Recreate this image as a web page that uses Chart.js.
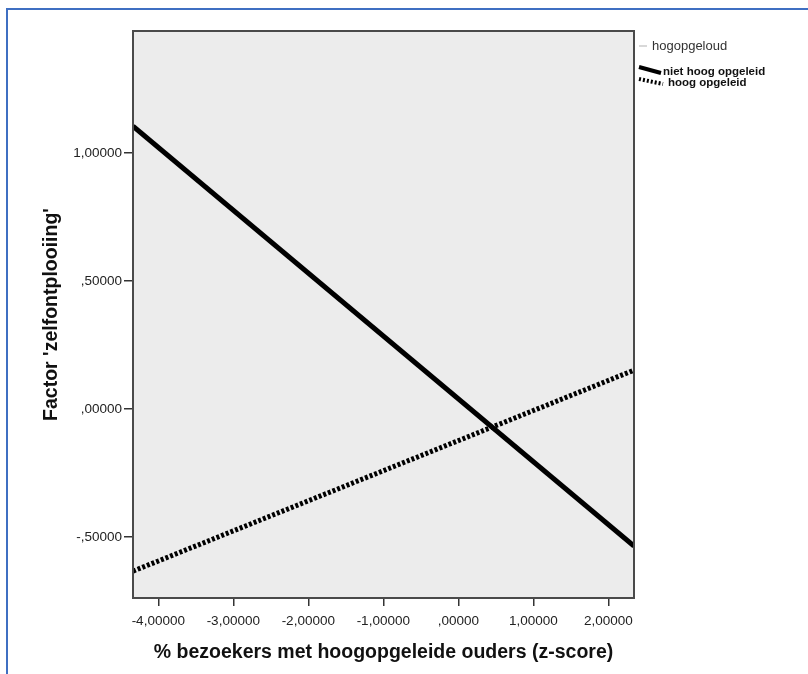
<!DOCTYPE html>
<html>
<head>
<meta charset="utf-8">
<script src="https://cdn.jsdelivr.net/npm/chart.js@4"></script>
<style>
html,body{margin:0;padding:0;background:#fff;}
#wrap{position:relative;width:808px;height:674px;overflow:hidden;}
#frame{position:absolute;left:6px;top:8px;width:820px;height:700px;border-left:2px solid #3f6fc2;border-top:2px solid #3f6fc2;box-sizing:border-box;pointer-events:none;}
canvas{position:absolute;left:0;top:0;}
</style>
</head>
<body>
<div id="wrap">
<canvas id="c" width="808" height="674"></canvas>
<div id="frame"></div>
</div>
<script>
// ---- data ----
const xRange = [-4.337, 2.343];               // z-score at left and right end of fit lines
const nietHoogOpgeleid = [1.105, -0.535];      // Factor 'zelfontplooiing'
const hoogOpgeleid = [-0.633, 0.152];
const seriesLabels = ['niet hoog opgeleid', 'hoog opgeleid'];
const legendTitle = 'hogopgeloud';
const xTickValues = [-4, -3, -2, -1, 0, 1, 2];
const xTickLabels = ['-4,00000', '-3,00000', '-2,00000', '-1,00000', ',00000', '1,00000', '2,00000'];
const yTickValues = [-0.5, 0, 0.5, 1.0];
const yTickLabels = ['-,50000', ',00000', ',50000', '1,00000'];
const xTitle = '% bezoekers met hoogopgeleide ouders (z-score)';
const yTitle = "Factor 'zelfontplooiing'";

const toPts = ys => xRange.map((x, i) => ({x: x, y: ys[i]}));

const FONT = '"Liberation Sans", Arial, sans-serif';

const plotBg = {
  id: 'plotBg',
  beforeDatasetsDraw(chart) {
    const {ctx, chartArea: a} = chart;
    ctx.save();
    ctx.fillStyle = '#ececec';
    ctx.fillRect(a.left, a.top, a.right - a.left, a.bottom - a.top);
    ctx.restore();
  },
  afterDatasetsDraw(chart) {
    const {ctx, chartArea: a} = chart;
    ctx.save();
    ctx.strokeStyle = '#4a4a4a';
    ctx.lineWidth = 2;
    ctx.strokeRect(a.left, a.top, a.right - a.left, a.bottom - a.top);
    ctx.restore();
  }
};

const legendPlugin = {
  id: 'customLegend',
  afterDraw(chart) {
    const ctx = chart.ctx;
    ctx.save();
    ctx.fillStyle = '#d8d8d8';
    ctx.fillRect(639, 45, 8, 2);
    ctx.fillStyle = '#333';
    ctx.font = '13px ' + FONT;
    ctx.textBaseline = 'middle';
    ctx.fillText(legendTitle, 652, 46);
    ctx.font = 'bold 11.5px ' + FONT;
    ctx.fillStyle = '#111';
    // solid sample
    ctx.strokeStyle = '#000';
    ctx.lineWidth = 4;
    ctx.beginPath(); ctx.moveTo(639, 67); ctx.lineTo(661, 73); ctx.stroke();
    ctx.fillText(seriesLabels[0], 663, 72);
    // dotted sample
    ctx.setLineDash([2, 2]);
    ctx.lineWidth = 4;
    ctx.beginPath(); ctx.moveTo(639, 79); ctx.lineTo(663, 84); ctx.stroke();
    ctx.setLineDash([]);
    ctx.fillText(seriesLabels[1], 668, 83);
    ctx.restore();
  }
};

new Chart(document.getElementById('c'), {
  type: 'scatter',
  data: {
    datasets: [
      {label: seriesLabels[0], data: toPts(nietHoogOpgeleid), showLine: true, borderColor: '#000', borderWidth: 5, pointRadius: 0, borderCapStyle: 'butt'},
      {label: seriesLabels[1], data: toPts(hoogOpgeleid), showLine: true, borderColor: '#000', borderWidth: 5, pointRadius: 0, borderDash: [3, 2], borderCapStyle: 'butt'}
    ]
  },
  options: {
    responsive: false,
    animation: false,
    layout: {padding: {left: 38, top: 31, right: 174, bottom: 6}},
    plugins: {legend: {display: false}, tooltip: {enabled: false}},
    scales: {
      x: {
        type: 'linear',
        min: xRange[0], max: xRange[1],
        afterBuildTicks: s => { s.ticks = xTickValues.map(v => ({value: v})); },
        afterFit: s => { s.height = 70; },
        border: {display: false},
        grid: {drawOnChartArea: false, drawTicks: true, tickLength: 8, color: '#333', lineWidth: 1.5},
        ticks: {
          color: '#222', padding: 7, maxRotation: 0, autoSkip: false,
          font: {family: FONT, size: 13.5},
          callback: (v) => { const i = xTickValues.indexOf(v); return i >= 0 ? xTickLabels[i] : ''; }
        },
        title: {display: true, text: xTitle, color: '#111', font: {family: FONT, size: 19.5, weight: 'bold'}, padding: {top: 4, bottom: 4}}
      },
      y: {
        type: 'linear',
        min: -0.738, max: 1.477,
        afterBuildTicks: s => { s.ticks = yTickValues.map(v => ({value: v})); },
        afterFit: s => { s.width = 95; },
        border: {display: false},
        grid: {drawOnChartArea: false, drawTicks: true, tickLength: 9, color: '#333', lineWidth: 1.5},
        ticks: {
          color: '#222', padding: 2, autoSkip: false,
          font: {family: FONT, size: 13.5},
          callback: (v) => { const i = yTickValues.indexOf(v); return i >= 0 ? yTickLabels[i] : ''; }
        },
        title: {display: true, text: yTitle, color: '#111', font: {family: FONT, size: 19.5, weight: 'bold'}, padding: {top: 2, bottom: 4}}
      }
    }
  },
  plugins: [plotBg, legendPlugin]
});
</script>
</body>
</html>
